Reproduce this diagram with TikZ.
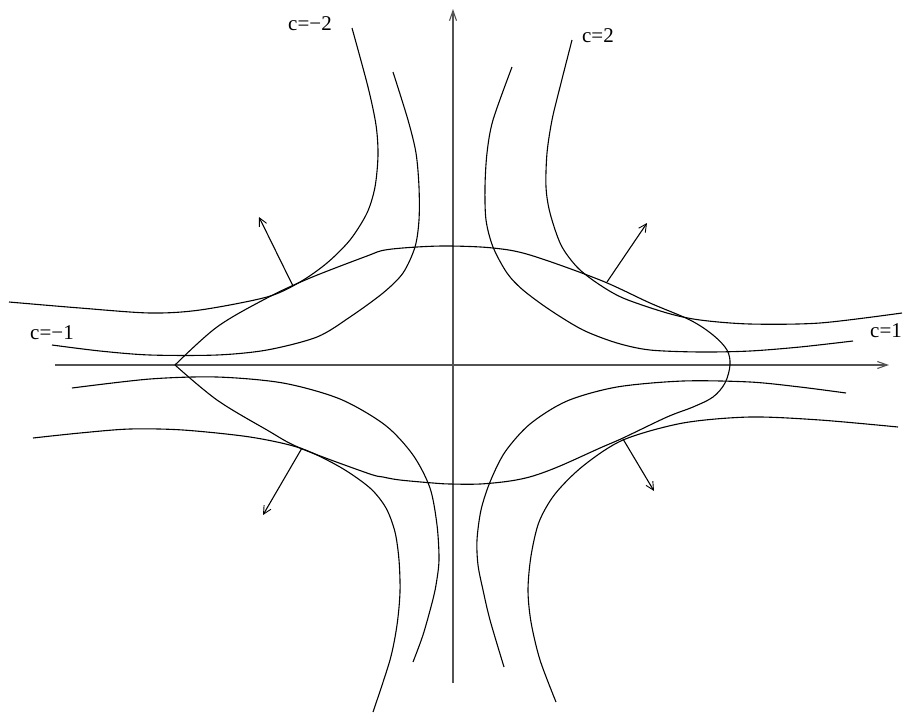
\documentclass[tikz,border=0pt]{standalone}
\usepackage{fontspec}
\setmainfont{Liberation Serif}
\usetikzlibrary{arrows.meta}
\begin{document}
\begin{tikzpicture}[x=1pt,y=-1pt,
  curve/.style={line width=1.1pt,line join=round},
  axis/.style={line width=1.5pt,draw=black!68,-{Straight Barb[length=10pt,width=7pt,line width=1.1pt]}},
  normal/.style={line width=1.1pt,-{Straight Barb[length=8pt,width=8pt,line width=0.9pt]}},
  lab/.style={font=\fontsize{21}{21}\selectfont,inner sep=0pt}]
\useasboundingbox (0,0) rectangle (903,713);
% axes
\coordinate (xs) at (55,365); \coordinate (xe) at (889,365);
\coordinate (ys) at (453,683); \coordinate (ye) at (453,9);
\draw[axis] (xs) -- (xe);
\draw[axis] (ys) -- (ye);
% level curves
\draw[curve] plot[smooth,tension=0.5] coordinates {(352,28) (368,87) (376,125) (378,155) (375,187) (367,213) (350,240) (327,263) (300,282) (267,297) (200,310) (150,313) (80,308) (9,302)};
\draw[curve] plot[smooth,tension=0.5] coordinates {(393,72) (408,120) (416,153) (419,187) (419,220) (415,247) (403,273) (383,293) (350,317) (317,337) (267,350) (217,355) (150,355) (100,351) (52,345)};
\draw[curve] plot[smooth,tension=0.5] coordinates {(512,67) (493,120) (487,153) (485,187) (486,220) (493,247) (507,273) (523,290) (550,310) (583,330) (617,343) (650,350) (700,352) (750,351) (800,347) (853,341)};
\draw[curve] plot[smooth,tension=0.5] coordinates {(572,40) (560,87) (552,120) (547,153) (546,187) (550,213) (561,245) (577,267) (597,283) (623,298) (667,313) (700,320) (750,324) (820,323) (902,313)};
\draw[curve] plot[smooth,tension=0.5] coordinates {(72,388) (150,379) (217,377) (283,383) (340,399) (385,425) (413,455) (430,488) (437,525) (439,560) (436,585) (432,603) (423,635) (413,662)};
\draw[curve] plot[smooth,tension=0.5] coordinates {(33,438) (80,433) (130,429) (183,430) (250,437) (300,448) (340,467) (370,488) (386,508) (395,532) (399,560) (400,592) (397,625) (390,660) (373,712)};
\draw[curve] plot[smooth,tension=0.5] coordinates {(846,393) (800,387) (750,382) (683,381) (617,387) (567,401) (530,424) (505,452) (490,482) (481,510) (477,540) (478,565) (483,590) (490,620) (504,667)};
\draw[curve] plot[smooth,tension=0.5] coordinates {(898,427) (820,420) (750,417) (683,423) (623,440) (583,466) (555,494) (539,522) (531,556) (528,590) (531,622) (540,660) (556,702)};
% region boundary
\draw[curve] plot[smooth,tension=0.55] coordinates {(175,365) (217,327) (267,298) (310,278) (367,256) (385,250) (417,247) (450,246) (493,248) (530,255) (600,280) (650,303) (690,320) (713,335) (727,350) (730,365) (725,383) (713,397) (693,407) (667,417) (623,438) (600,448) (560,466) (533,476) (510,481) (480,484) (450,484) (433,483) (400,480) (383,477) (367,473) (300,448) (267,430) (217,400) (175,365)};
% normals
\coordinate (n1s) at (293,286); \coordinate (n1e) at (259,217);
\coordinate (n2s) at (607,282); \coordinate (n2e) at (647,223);
\coordinate (n3s) at (302,448); \coordinate (n3e) at (263,515);
\coordinate (n4s) at (623,439); \coordinate (n4e) at (654,491);
\draw[normal] (n1s) -- (n1e);
\draw[normal] (n2s) -- (n2e);
\draw[normal] (n3s) -- (n3e);
\draw[normal] (n4s) -- (n4e);
% labels
\node[lab] (lm2) at (310,24) {c=−2};
\node[lab] (lp2) at (598,36) {c=2};
\node[lab] (lm1) at (52,333) {c=−1};
\node[lab,anchor=west] (lp1) at (870,331) {c=1};
\end{tikzpicture}
\end{document}
